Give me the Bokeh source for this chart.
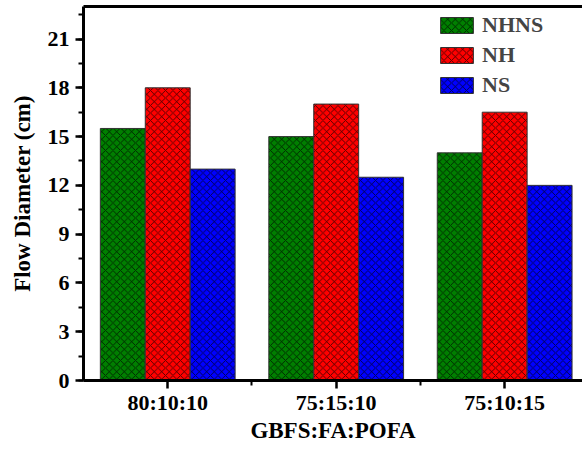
from bokeh.plotting import figure
from bokeh.models import (Range1d, FixedTicker, SingleIntervalTicker, LinearAxis,
                          Legend, LegendItem, ColumnDataSource)
from bokeh.embed import file_html
from bokeh.resources import INLINE

categories = ["80:10:10", "75:15:10", "75:10:15"]
series_names = ["NHNS", "NH", "NS"]
nhns = [15.5, 15.0, 14.0]
nh = [18.0, 17.0, 16.5]
ns = [13.0, 12.5, 12.0]
colors = ["#007F00", "#FF0000", "#0000FF"]
y_ticks_interval = 3

FONT = "Liberation Serif"

p = figure(width=582, height=454, output_backend="svg", toolbar_location=None,
           x_range=Range1d(0.5, 3.462), y_range=Range1d(0, 23),
           min_border_left=83, min_border_right=0, min_border_top=6, min_border_bottom=74)
p.outline_line_color = None
p.grid.visible = False
p.background_fill_color = "white"

width = 0.8 / 3
xs = [i + 1 for i in range(len(categories))]
offsets = [-width, 0, width]
renderers = []
for vals, off, col in zip([nhns, nh, ns], offsets, colors):
    src = ColumnDataSource(dict(x=[x + off for x in xs], top=vals))
    r = p.vbar(x="x", top="top", width=width, bottom=0, source=src,
               fill_color=col, line_color="#333333", line_width=1,
               hatch_pattern="diagonal_cross", hatch_color="black",
               hatch_alpha=0.75, hatch_weight=0.9, hatch_scale=7.5)
    renderers.append(r)

# axes
xa = p.xaxis[0]
xa.ticker = FixedTicker(ticks=xs, minor_ticks=[1.5, 2.5])
xa.major_label_overrides = {x: c for x, c in zip(xs, categories)}
ya = p.yaxis[0]
ya.ticker = SingleIntervalTicker(interval=y_ticks_interval, num_minor_ticks=2)

for ax in (xa, ya):
    ax.axis_line_width = 3
    ax.axis_line_color = "black"
    ax.major_tick_line_width = 2.5
    ax.minor_tick_line_width = 2
    ax.major_tick_out = 8
    ax.major_tick_in = 0
    ax.minor_tick_out = 5
    ax.minor_tick_in = 0
    ax.major_label_text_font = FONT
    ax.major_label_text_font_style = "bold"
    ax.major_label_text_font_size = "22px"
    ax.major_label_text_color = "black"
    ax.axis_label_text_font = FONT
    ax.axis_label_text_font_style = "bold"
    ax.axis_label_text_font_size = "23px"
    ax.axis_label_text_color = "black"

xa.axis_label = "GBFS:FA:POFA"
xa.major_label_standoff = 1
xa.axis_label_standoff = 0
ya.axis_label = "Flow Diameter (cm)"
ya.major_label_standoff = 6
ya.axis_label_standoff = 10

top_axis = LinearAxis(ticker=FixedTicker(ticks=[]), axis_line_width=3,
                      axis_line_color="black", major_tick_line_color=None,
                      minor_tick_line_color=None, major_label_text_font_size="0px",
                      major_label_standoff=0)
p.add_layout(top_axis, "above")

items = [LegendItem(label=n, renderers=[r]) for n, r in zip(series_names, renderers)]
legend = Legend(items=items, location=(353, 282), glyph_width=41, glyph_height=20,
                spacing=4, padding=0, margin=0, label_standoff=5,
                label_text_font=FONT, label_text_font_style="bold",
                label_text_font_size="22px", border_line_color=None,
                background_fill_alpha=0)
p.add_layout(legend, "center")

open("out.html", "w").write(file_html(p, INLINE))
